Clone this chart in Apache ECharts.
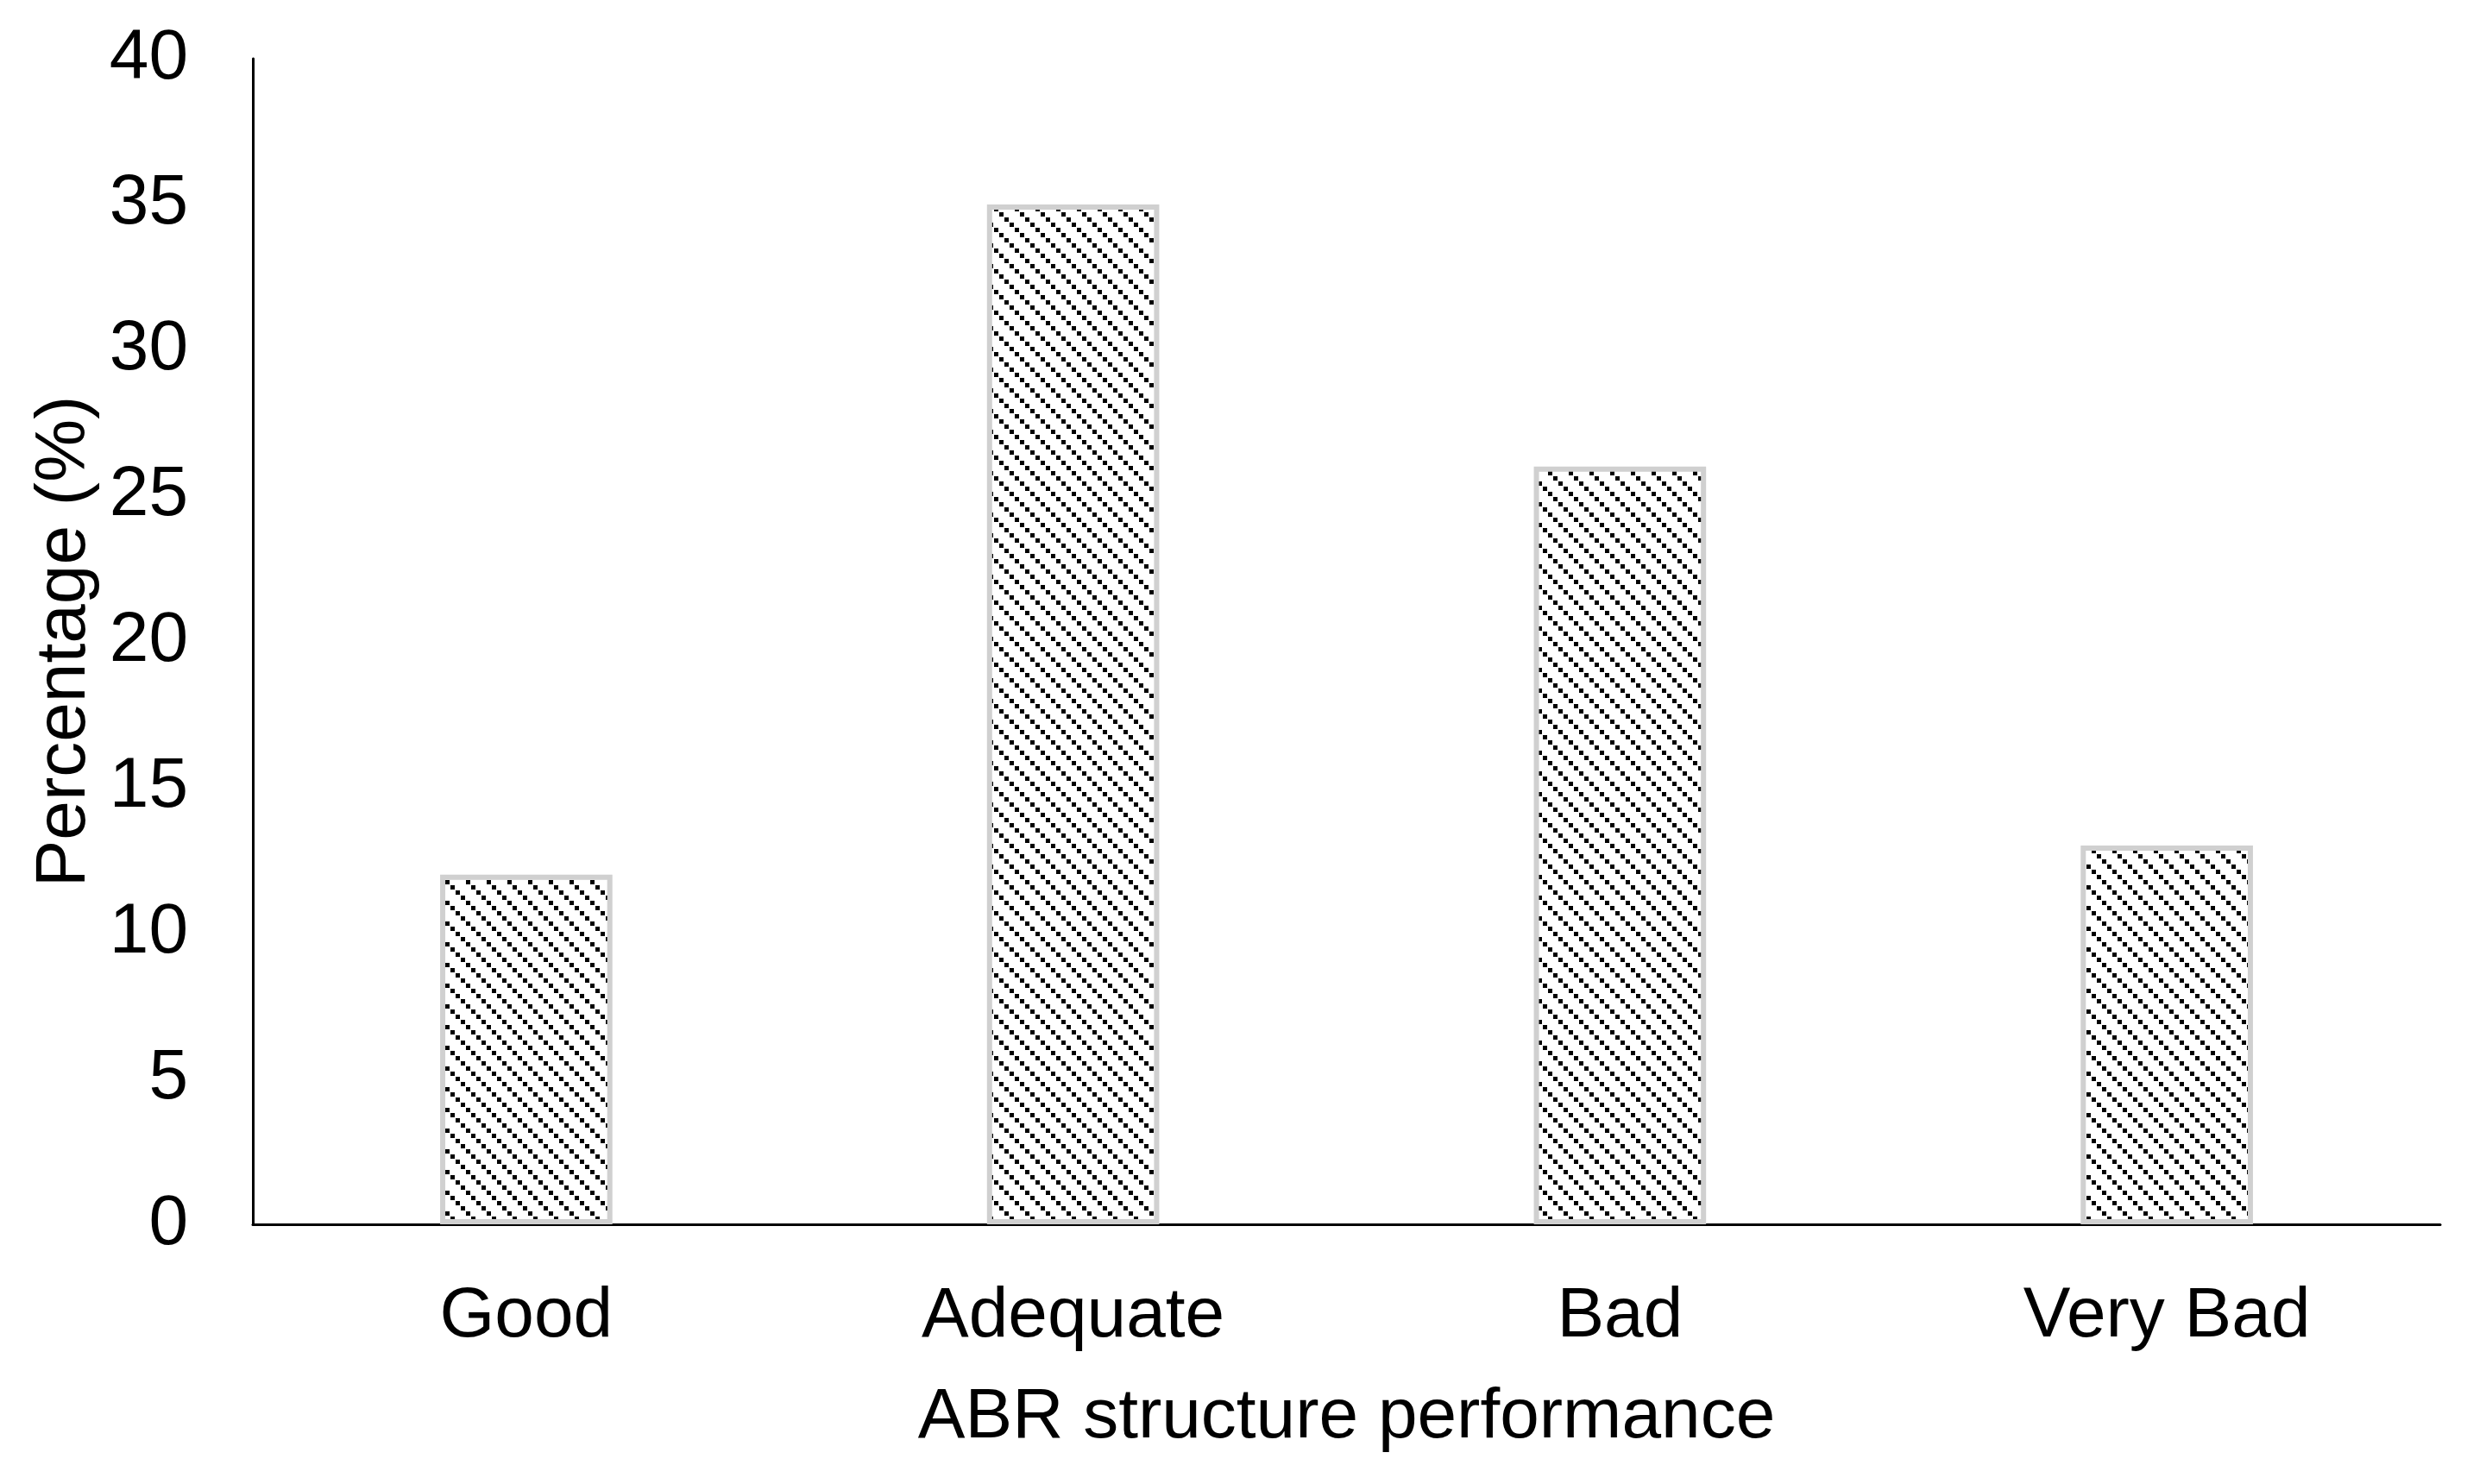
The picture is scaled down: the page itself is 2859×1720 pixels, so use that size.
<!DOCTYPE html>
<html>
<head>
<meta charset="utf-8">
<script src="https://cdn.jsdelivr.net/npm/echarts@6/dist/echarts.min.js"></script>
<style>
html,body{margin:0;padding:0;background:#fff;}
#chart{width:2859px;height:1720px;}
</style>
</head>
<body>
<div id="chart"></div>
<script>
const categories = ['Good', 'Adequate', 'Bad', 'Very Bad'];
const percentages = [12, 35, 26, 13];
const yTicks = [0, 5, 10, 15, 20, 25, 30, 35, 40];
const xTitle = 'ABR structure performance';
const yTitle = 'Percentage (%)';

function makePattern() {
  const c = document.createElement('canvas');
  c.width = 24; c.height = 24;
  const ctx = c.getContext('2d');
  ctx.fillStyle = '#ffffff';
  ctx.fillRect(0, 0, 24, 24);
  ctx.fillStyle = '#000000';
  for (let i = 0; i < 4; i++) {
    ctx.fillRect(i * 6, i * 6, 5, 5);
  }
  return c;
}

const FONT = '"Liberation Sans Narrow", "Arial Narrow", "Liberation Sans", Arial, sans-serif';
const chart = echarts.init(document.getElementById('chart'), null, {renderer: 'canvas'});
chart.setOption({
  backgroundColor: '#ffffff',
  animation: false,
  grid: {left: 293, right: 31, top: 68, bottom: 301, containLabel: false},
  xAxis: {
    type: 'category',
    data: categories,
    axisLine: {show: true, lineStyle: {color: '#000', width: 3}},
    axisTick: {show: false},
    axisLabel: {color: '#000', fontSize: 82, fontFamily: FONT, margin: 66},
    name: xTitle,
    nameLocation: 'middle',
    nameGap: 183,
    nameTextStyle: {color: '#000', fontSize: 82, fontFamily: FONT}
  },
  yAxis: {
    type: 'value',
    min: yTicks[0],
    max: yTicks[yTicks.length - 1],
    interval: yTicks[1] - yTicks[0],
    axisLine: {show: true, lineStyle: {color: '#000', width: 3}},
    axisTick: {show: false},
    splitLine: {show: false},
    axisLabel: {color: '#000', fontSize: 82, fontFamily: FONT, margin: 75},
    name: yTitle,
    nameLocation: 'middle',
    nameGap: 175,
    nameRotate: 90,
    nameTextStyle: {color: '#000', fontSize: 82, fontFamily: FONT}
  },
  series: [{
    type: 'bar',
    data: percentages,
    barWidth: '31.5%',
    itemStyle: {
      color: {image: makePattern(), repeat: 'repeat'},
      borderColor: '#d0d0d0',
      borderWidth: 6
    }
  }]
});
</script>
</body>
</html>
